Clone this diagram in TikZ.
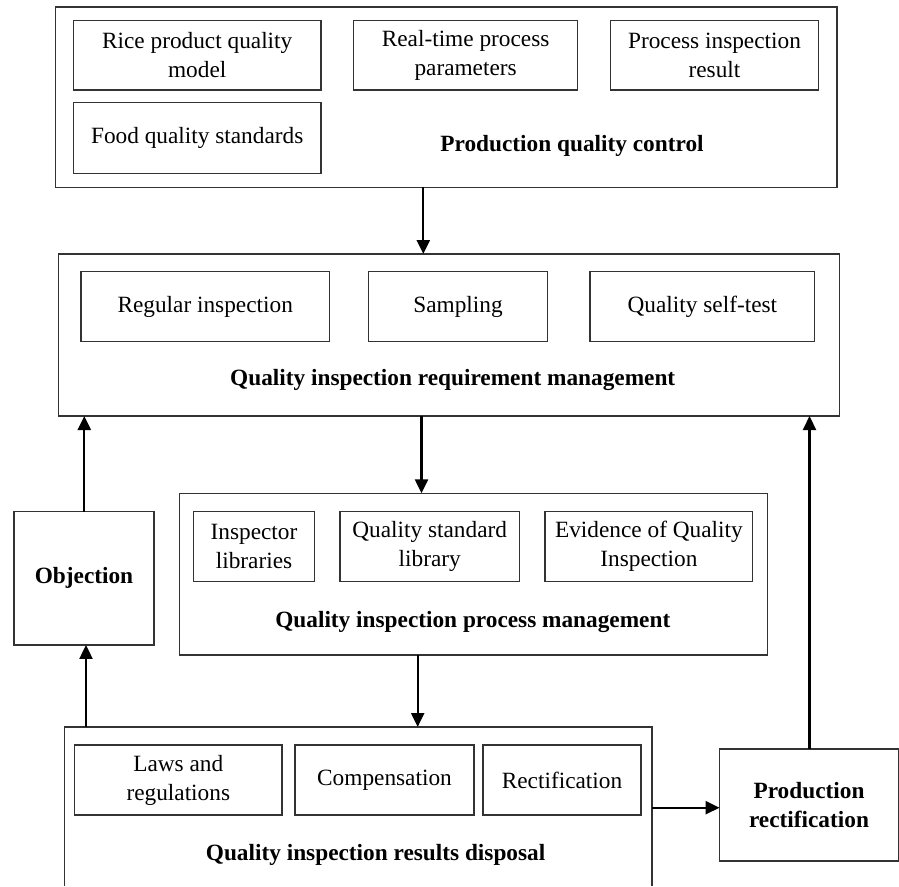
\documentclass[tikz,border=0pt]{standalone}
\usepackage{fontspec}
\setmainfont{Liberation Serif}
\usetikzlibrary{arrows.meta}
\begin{document}
\begin{tikzpicture}[x=1pt,y=-1pt,
  box/.style={draw=black!80, line width=1.3pt, inner sep=0pt, outer sep=0pt, align=center,
    font=\fontsize{23.3}{29}\selectfont},
  ghost/.style={draw=none, inner sep=0pt, outer sep=0pt},
  lbl/.style={inner sep=0pt, font=\fontsize{23.3}{29}\selectfont\bfseries, align=center},
  arr/.style={line width=2.2pt, -{Triangle[length=14pt,width=13pt]}}]
\useasboundingbox (0,0) rectangle (899,886);
% Production quality control
\node[box, minimum width=781.4, minimum height=180.3] (box1) at (446.3,97.2) {};
\node[box, minimum width=247.6, minimum height=69.3] (rice) at (197.2,55.4) {Rice product quality\\model};
\node[box, minimum width=223.6, minimum height=69.3] (realtime) at (465.6,55.4) {Real-time process\\parameters};
\node[box, minimum width=207.5, minimum height=69.3] (process) at (714.5,55.4) {Process inspection\\result};
\node[box, minimum width=247.6, minimum height=71] (food) at (197.2,137.8) {Food quality standards};
\node[lbl] (l1) at (572,146) {Production quality control};
% Requirement management
\node[box, minimum width=781, minimum height=162] (box2) at (448.8,335) {};
\node[box, minimum width=248.3, minimum height=69.6] (regular) at (205.2,306.5) {Regular inspection};
\node[box, minimum width=179.4, minimum height=69.6] (sampling) at (458,306.5) {Sampling};
\node[box, minimum width=224.7, minimum height=69.6] (selftest) at (702.4,306.5) {Quality self-test};
\node[lbl] (l2) at (452.7,380) {Quality inspection requirement management};
% Process management
\node[box, minimum width=588, minimum height=161.7] (box3) at (473.3,574.2) {};
\node[box, minimum width=120.6, minimum height=70] (inspector) at (254,546.7) {Inspector\\libraries};
\node[box, minimum width=179.3, minimum height=70] (qsl) at (429.7,546.7) {Quality standard\\library};
\node[box, minimum width=207.7, minimum height=70] (evidence) at (648.9,546.7) {Evidence of Quality\\Inspection};
\node[lbl] (l3) at (472.8,621.7) {Quality inspection process management};
% Objection
\node[box, minimum width=140, minimum height=133.3] (objection) at (84,578.3) {};
\node[lbl] (lobj) at (84,578.3) {Objection};
% Results disposal (open at bottom)
\node[ghost, minimum width=587.2, minimum height=159] (box4) at (358.4,806.5) {};
\draw[black!80, line width=1.3pt] (box4.south west) -- (box4.north west) -- (box4.north east) -- (box4.south east);
\node[box, minimum width=207.5, minimum height=70] (laws) at (178.3,780) {Laws and\\regulations};
\node[box, minimum width=179, minimum height=70] (comp) at (384.5,780) {Compensation};
\node[box, minimum width=158, minimum height=70] (rect) at (562,780) {Rectification};
\node[lbl] (l4) at (375.6,855) {Quality inspection results disposal};
% Production rectification
\node[box, minimum width=178.9, minimum height=112] (prodrect) at (809,805) {};
\node[lbl] (lpr) at (809,805) {Production\\rectification};
% connector guides
\coordinate (g1) at (423.3,0);
\coordinate (g2) at (421.5,0);
\coordinate (g3) at (417.7,0);
\coordinate (g4) at (86,0);
\coordinate (g5) at (84.3,0);
\coordinate (g6) at (0,807.7);
\coordinate (g7) at (809.5,0);
\draw[arr] (box1.south -| g1) -- (box2.north -| g1);
\draw[arr] (box2.south -| g2) -- (box3.north -| g2);
\draw[arr] (box3.south -| g3) -- (box4.north -| g3);
\draw[arr] (box4.north -| g4) -- (objection.south -| g4);
\draw[arr] (objection.north -| g5) -- (box2.south -| g5);
\draw[arr] (box4.east |- g6) -- (prodrect.west |- g6);
\draw[arr] (prodrect.north -| g7) -- (box2.south -| g7);
\end{tikzpicture}
\end{document}
